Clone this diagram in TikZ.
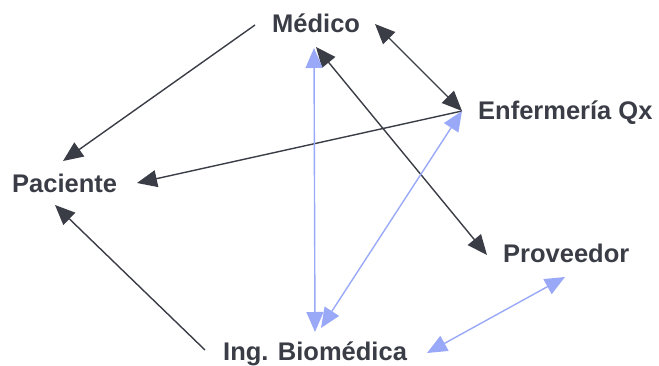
\documentclass[tikz,border=0pt]{standalone}
\usepackage{fontspec}
\setmainfont{Liberation Sans}
\usetikzlibrary{arrows.meta}
\definecolor{ink}{HTML}{3A3D46}
\definecolor{link}{HTML}{9AA9F7}
\tikzset{
  actor/.style={inner sep=0pt, anchor=base west, text=ink,
    font=\fontsize{25.5}{30}\selectfont\bfseries},
  head/.tip={Triangle[length=20pt, width=17pt]},
  rel/.style={draw=ink, line width=1.4pt, -head},
  relboth/.style={draw=ink, line width=1.4pt, head-head},
  tech/.style={draw=link, line width=1.4pt, head-head},
}
\begin{document}
\begin{tikzpicture}[x=1pt, y=-1pt]
  \useasboundingbox (0,0) rectangle (659,366);

  % actors
  \node[actor] (med) at (272,33)  {Médico};
  \node[actor] (enf) at (478,120) {Enfermería Qx};
  \node[actor] (pac) at (12,193)  {Paciente};
  \node[actor] (pro) at (503,263) {Proveedor};
  \node[actor] (ing) at (223,360) {Ing. Biomédica};

  % connector ends around each actor
  \coordinate (medW)  at (255,25);
  \coordinate (medE)  at (375,24);
  \coordinate (medS)  at (316,47);
  \coordinate (medSb) at (314,48);
  \coordinate (enfW)  at (462,111);
  \coordinate (pacNE) at (63,161);
  \coordinate (pacE)  at (137,183);
  \coordinate (pacS)  at (55,205);
  \coordinate (proW)  at (487,255);
  \coordinate (proSW) at (565,277);
  \coordinate (ingNW) at (205,350);
  \coordinate (ingN)  at (315,332);
  \coordinate (ingNE) at (321,328);
  \coordinate (ingE)  at (427,353);

  % clinical relations
  \draw[rel] (medW) -- (pacNE);
  \draw[rel] (enfW) -- (pacE);
  \draw[rel] (ingNW) -- (pacS);
  \draw[relboth] (medE) -- (enfW);
  \draw[relboth] (medS) -- (proW);

  % biomedical engineering relations
  \draw[tech] (medSb) -- (ingN);
  \draw[tech] (enfW) -- (ingNE);
  \draw[tech] (proSW) -- (ingE);
\end{tikzpicture}
\end{document}
